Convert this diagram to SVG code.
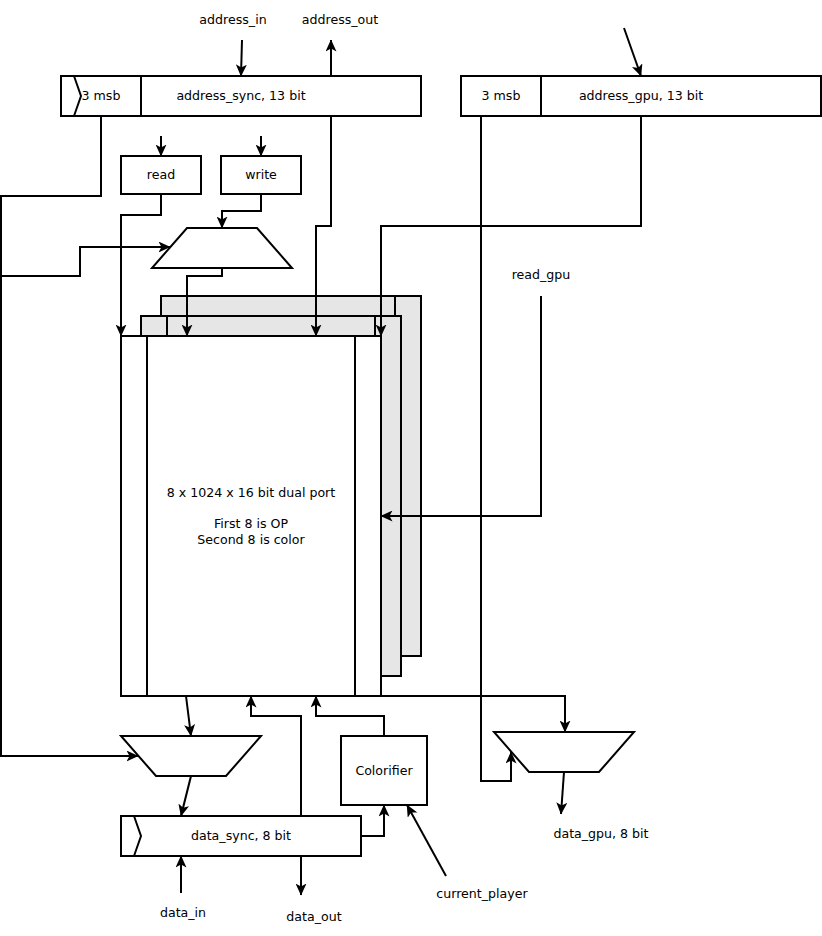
<svg xmlns="http://www.w3.org/2000/svg" width="822" height="936" viewBox="0 0 822 936">
<style>
.s{fill:none;stroke:#000;stroke-width:2}
.b{fill:#fff;stroke:#000;stroke-width:2}
.g{fill:#e6e6e6;stroke:#000;stroke-width:2}
.c{fill:none;stroke:#000;stroke-width:2;marker-end:url(#ah)}
text{font-family:"DejaVu Sans","Liberation Sans",sans-serif;font-size:12.6px;fill:#000;text-anchor:middle}
</style>
<defs>
<marker id="ah" markerUnits="userSpaceOnUse" markerWidth="12" markerHeight="11" viewBox="0 0 12 11" refX="11.5" refY="5.5" orient="auto">
<path d="M0,0 L12,5.5 L0,11 L3,5.5 z" fill="#000"/>
</marker>
</defs>
<rect width="822" height="936" fill="#fff"/>

<g id="address_sync">
<rect class="b" x="61" y="76" width="360" height="40"/>
<line class="s" x1="141" y1="76" x2="141" y2="116"/>
<polyline class="s" points="74,76 81,96 74,116"/>
<text x="101" y="100">3 msb</text>
<text x="241" y="100">address_sync, 13 bit</text>
</g>

<g id="address_gpu">
<rect class="b" x="461" y="76" width="360" height="40"/>
<line class="s" x1="541" y1="76" x2="541" y2="116"/>
<text x="501" y="100">3 msb</text>
<text x="641" y="100">address_gpu, 13 bit</text>
</g>

<g id="read">
<rect class="b" x="121" y="156" width="80" height="38"/>
<text x="161" y="179">read</text>
</g>
<g id="write">
<rect class="b" x="221" y="156" width="80" height="38"/>
<text x="261" y="179">write</text>
</g>

<g id="mux_top">
<polygon class="b" points="187,228 257,228 292,268 152,268"/>
</g>

<g id="memory">
<g id="mem_back">
<rect class="g" x="161" y="296" width="260" height="360"/>
<line class="s" x1="187" y1="296" x2="187" y2="656"/>
<line class="s" x1="395" y1="296" x2="395" y2="656"/>
</g>
<g id="mem_mid">
<rect class="g" x="141" y="316" width="260" height="360"/>
<line class="s" x1="167" y1="316" x2="167" y2="676"/>
<line class="s" x1="375" y1="316" x2="375" y2="676"/>
</g>
<g id="mem_front">
<rect class="b" x="121" y="336" width="260" height="360"/>
<line class="s" x1="147" y1="336" x2="147" y2="696"/>
<line class="s" x1="355" y1="336" x2="355" y2="696"/>
<text x="251" y="497">8 x 1024 x 16 bit dual port</text>
<text x="251" y="528">First 8 is OP</text>
<text x="251" y="544">Second 8 is color</text>
</g>
</g>

<g id="mux_data">
<polygon class="b" points="121,736 261,736 226,776 156,776"/>
</g>

<g id="mux_gpu">
<polygon class="b" points="494,732 634,732 599,772 529,772"/>
</g>

<g id="colorifier">
<rect class="b" x="341" y="736" width="86" height="69"/>
<text x="384" y="775">Colorifier</text>
</g>

<g id="data_sync">
<rect class="b" x="121" y="816" width="240" height="40"/>
<polyline class="s" points="134,816 141,836 134,856"/>
<text x="241" y="840">data_sync, 8 bit</text>
</g>

<g id="labels">
<text x="233" y="24">address_in</text>
<text x="340" y="24">address_out</text>
<text x="541" y="279">read_gpu</text>
<text x="183" y="917">data_in</text>
<text x="314" y="921">data_out</text>
<text x="482" y="898">current_player</text>
<text x="601" y="838">data_gpu, 8 bit</text>
</g>

<g id="connectors">
<line class="c" x1="242" y1="40" x2="241" y2="76"/>
<line class="c" x1="331" y1="76" x2="331" y2="40"/>
<line class="c" x1="624" y1="28" x2="641" y2="76"/>
<line class="c" x1="161" y1="136" x2="161" y2="156"/>
<line class="c" x1="261" y1="136" x2="261" y2="156"/>
<polyline class="c" points="101,116 101,196 1,196 1,756 138,756"/>
<polyline class="c" points="1,276 80,276 80,247 170,247"/>
<polyline class="c" points="161,194 161,215 121,215 121,336"/>
<polyline class="c" points="261,194 261,211 222,211 222,228"/>
<polyline class="c" points="222,268 222,276 187,276 187,336"/>
<polyline class="c" points="331,116 331,226 316,226 316,336"/>
<polyline class="c" points="641,116 641,226 381,226 381,336"/>
<polyline class="c" points="481,116 481,781 511,781 511,752"/>
<polyline class="c" points="541,296 541,516 381,516"/>
<polyline class="c" points="381,696 565,696 565,732"/>
<line class="c" x1="564" y1="772" x2="561" y2="814"/>
<line class="c" x1="186" y1="696" x2="191" y2="736"/>
<line class="c" x1="191" y1="776" x2="181" y2="816"/>
<line class="c" x1="181" y1="893" x2="181" y2="856"/>
<line class="c" x1="301" y1="856" x2="301" y2="895"/>
<polyline class="c" points="301,816 301,716 251,716 251,696"/>
<polyline class="c" points="384,736 384,716 316,716 316,696"/>
<polyline class="c" points="361,836 384,836 384,805"/>
<line class="c" x1="446" y1="876" x2="407" y2="805"/>
</g>
</svg>
